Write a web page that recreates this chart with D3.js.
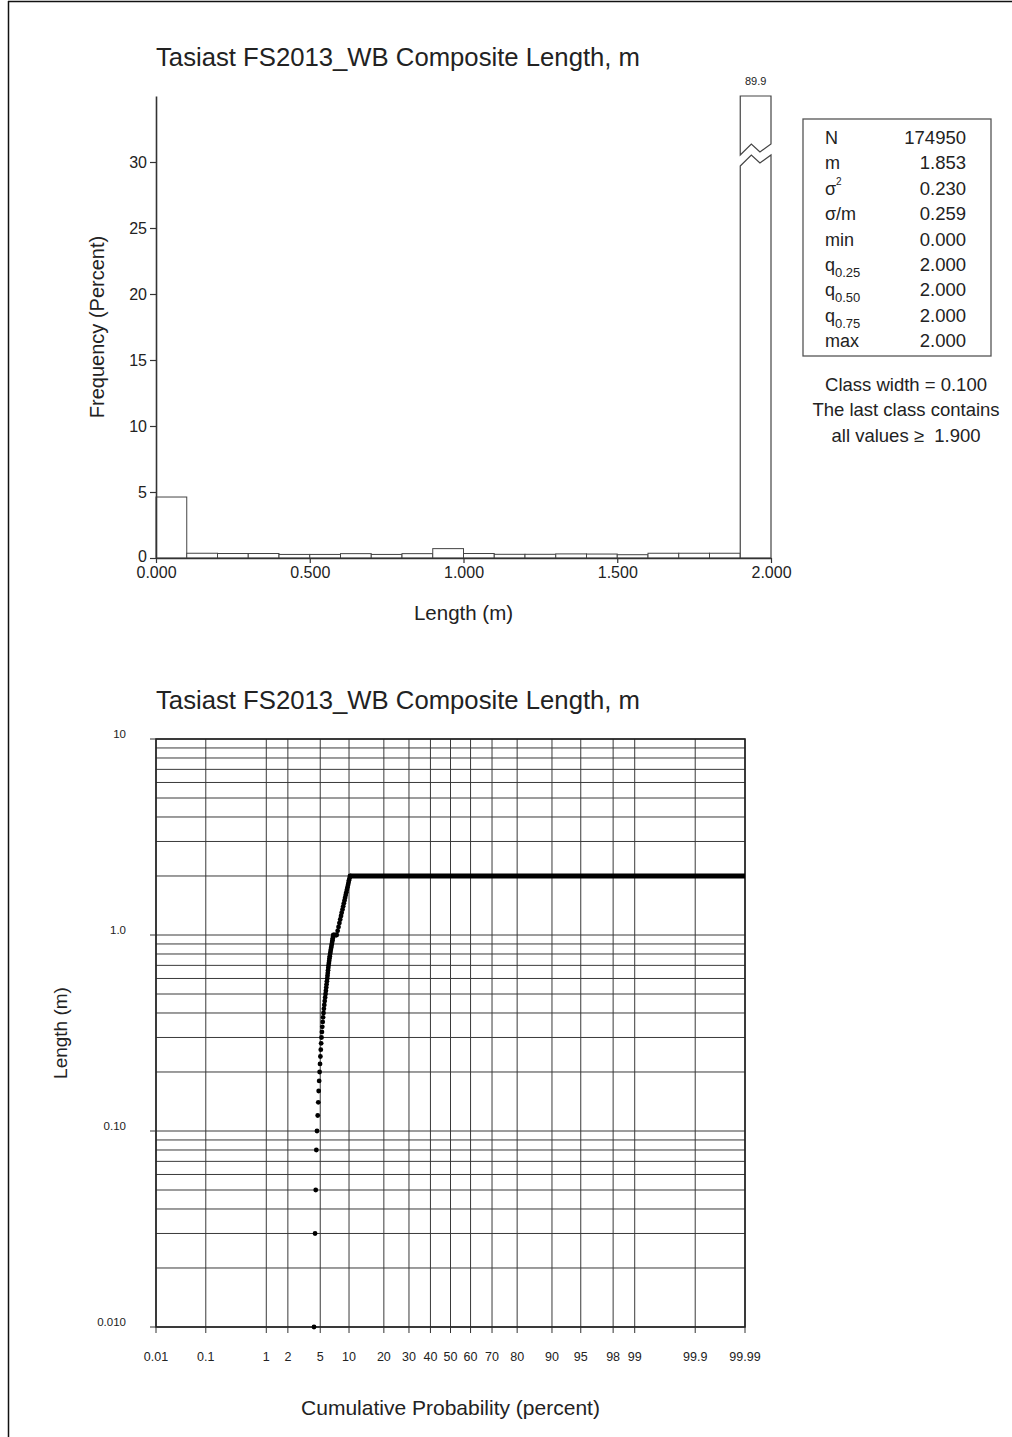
<!DOCTYPE html>
<html>
<head>
<meta charset="utf-8">
<script src="https://cdn.jsdelivr.net/npm/d3@7"></script>
<style>
  body { margin: 0; background: #fff; }
  svg { display: block; }
  text { font-family: "Liberation Sans", Arial, Helvetica, sans-serif; fill: #222; }
</style>
</head>
<body>
<svg id="chart" width="1012" height="1437"></svg>
<script>
// ---- Data --------------------------------------------------------------
const chartTitle = "Tasiast FS2013_WB Composite Length, m";

// Histogram: class start (m) and frequency (percent), class width 0.1
const classStarts = [0.0, 0.1, 0.2, 0.3, 0.4, 0.5, 0.6, 0.7, 0.8, 0.9,
                     1.0, 1.1, 1.2, 1.3, 1.4, 1.5, 1.6, 1.7, 1.8, 1.9];
const classFreq   = [4.62, 0.36, 0.34, 0.34, 0.27, 0.27, 0.33, 0.27, 0.33, 0.71,
                     0.34, 0.28, 0.28, 0.31, 0.30, 0.25, 0.36, 0.36, 0.36, 89.9];
const classWidth = 0.1;
const freqTicks = [0, 5, 10, 15, 20, 25, 30];
const lengthTicks = [0, 0.5, 1.0, 1.5, 2.0];

// Summary statistics
const statNames = [
  { base: "N" }, { base: "m" }, { base: "σ", sup: "2" }, { base: "σ/m" },
  { base: "min" }, { base: "q", sub: "0.25" }, { base: "q", sub: "0.50" },
  { base: "q", sub: "0.75" }, { base: "max" }
];
const statValues = ["174950", "1.853", "0.230", "0.259", "0.000",
                    "2.000", "2.000", "2.000", "2.000"];
const noteLines = ["Class width = 0.100", "The last class contains", "all values \u2265\u00a0 1.900"];

// Probability plot: length (m) vs cumulative probability (percent)
const probLengths = [0.01, 0.03, 0.05, 0.08, 0.10, 0.12, 0.14, 0.16, 0.18, 0.20,
                     0.22, 0.24, 0.26, 0.28, 0.30, 0.32, 0.34, 0.36, 0.38, 0.40,
                     0.42, 0.44, 0.46, 0.48, 0.50, 0.52, 0.54, 0.56, 0.58, 0.60,
                     0.62, 0.64, 0.66, 0.68, 0.70, 0.72, 0.74, 0.76, 0.78, 0.80,
                     0.82, 0.84, 0.86, 0.88, 0.90, 0.92, 0.94, 0.96, 0.98, 1.00,
                     1.00, 1.05, 1.10, 1.15, 1.20, 1.25, 1.30, 1.35, 1.40, 1.45,
                     1.50, 1.55, 1.60, 1.65, 1.70, 1.75, 1.80, 1.85, 1.90, 1.95, 2.00];
const probPercents = [4.24, 4.36, 4.44, 4.51, 4.59, 4.68, 4.75, 4.80, 4.86, 4.92,
                      4.97, 5.02, 5.07, 5.12, 5.17, 5.22, 5.27, 5.33, 5.38, 5.44,
                      5.49, 5.55, 5.61, 5.67, 5.73, 5.78, 5.83, 5.88, 5.93, 5.98,
                      6.02, 6.06, 6.10, 6.14, 6.18, 6.23, 6.28, 6.32, 6.37, 6.42,
                      6.48, 6.53, 6.59, 6.64, 6.70, 6.75, 6.80, 6.85, 6.90, 6.94,
                      7.54, 7.71, 7.87, 8.03, 8.18, 8.34, 8.47, 8.63, 8.77, 8.90,
                      9.04, 9.16, 9.29, 9.42, 9.54, 9.66, 9.78, 9.89, 9.99, 10.11, 10.22];
// Runs of identical values drawn as solid segments
const runLengths = [1.0, 2.0];
const runFrom    = [6.94, 10.22];
const runTo      = [7.54, 99.99];

const probTicks  = [0.01, 0.1, 1, 2, 5, 10, 20, 30, 40, 50, 60, 70, 80, 90, 95, 98, 99, 99.9, 99.99];
const probLabels = ["0.01", "0.1", "1", "2", "5", "10", "20", "30", "40", "50", "60", "70", "80",
                    "90", "95", "98", "99", "99.9", "99.99"];
const logTicks  = [0.01, 0.1, 1, 10];
const logLabels = ["0.010", "0.10", "1.0", "10"];

// ---- Helpers -----------------------------------------------------------
// Inverse of the standard normal CDF (Acklam's rational approximation)
function probit(p) {
  const a = [-3.969683028665376e+01, 2.209460984245205e+02, -2.759285104469687e+02,
             1.383577518672690e+02, -3.066479806614716e+01, 2.506628277459239e+00];
  const b = [-5.447609879822406e+01, 1.615858368580409e+02, -1.556989798598866e+02,
             6.680131188771972e+01, -1.328068155288572e+01];
  const c = [-7.784894002430293e-03, -3.223964580411365e-01, -2.400758277161838e+00,
             -2.549671180376400e+00, 4.374664141464968e+00, 2.938163982698783e+00];
  const d = [7.784695709041462e-03, 3.224671290700398e-01, 2.445134137142996e+00,
             3.754408661907416e+00];
  const plow = 0.02425, phigh = 1 - plow;
  let q, r;
  if (p < plow) {
    q = Math.sqrt(-2 * Math.log(p));
    return (((((c[0]*q+c[1])*q+c[2])*q+c[3])*q+c[4])*q+c[5]) /
           ((((d[0]*q+d[1])*q+d[2])*q+d[3])*q+1);
  } else if (p <= phigh) {
    q = p - 0.5; r = q * q;
    return (((((a[0]*r+a[1])*r+a[2])*r+a[3])*r+a[4])*r+a[5])*q /
           (((((b[0]*r+b[1])*r+b[2])*r+b[3])*r+b[4])*r+1);
  } else {
    q = Math.sqrt(-2 * Math.log(1 - p));
    return -(((((c[0]*q+c[1])*q+c[2])*q+c[3])*q+c[4])*q+c[5]) /
             ((((d[0]*q+d[1])*q+d[2])*q+d[3])*q+1);
  }
}

const svg = d3.select("#chart");
const ink = "#333";

// Page frame (left and top edges)
svg.append("line").attr("x1", 8.5).attr("x2", 8.5).attr("y1", 1).attr("y2", 1437)
  .attr("stroke", "#111").attr("stroke-width", 1.5);
svg.append("line").attr("x1", 8).attr("x2", 1012).attr("y1", 1.5).attr("y2", 1.5)
  .attr("stroke", "#111").attr("stroke-width", 1.5);

// ---- Histogram ---------------------------------------------------------
const hx = d3.scaleLinear().domain([0, 2]).range([156, 771]);
const hy = d3.scaleLinear().domain([0, 35]).range([558, 96]);

svg.append("text").attr("x", 156).attr("y", 66)
  .attr("font-size", 25.7).text(chartTitle);

const hist = svg.append("g");
classStarts.forEach((s, i) => {
  const v = classFreq[i];
  const x0 = hx(s), x1 = hx(s + classWidth);
  if (v <= hy.domain()[1]) {
    hist.append("rect")
      .attr("x", x0).attr("y", hy(v))
      .attr("width", x1 - x0).attr("height", hy(0) - hy(v))
      .attr("fill", "#fff").attr("stroke", "#444").attr("stroke-width", 1);
  } else {
    // Bar taller than the axis: draw it with a break
    const top = hy(hy.domain()[1]);
    const zb = 144;
    const w = x1 - x0;
    const zig = (dy) => [[x1, zb + dy], [x0 + w * 0.64, zb + 8 + dy], [x0 + w * 0.36, zb + dy], [x0, zb + 11 + dy]];
    const upper = [[x0, top], [x1, top]].concat(zig(0));
    const lowerZ = zig(11).reverse();
    const lower = lowerZ.concat([[x1, hy(0)], [x0, hy(0)]]);
    hist.append("path").attr("d", d3.line()(upper) + "Z")
      .attr("fill", "#fff").attr("stroke", "#444").attr("stroke-width", 1.2);
    hist.append("path").attr("d", d3.line()(lower) + "Z")
      .attr("fill", "#fff").attr("stroke", "#444").attr("stroke-width", 1.2);
    hist.append("text").attr("x", (x0 + x1) / 2).attr("y", top - 11)
      .attr("text-anchor", "middle").attr("font-size", 11).text(d3.format(".1f")(v));
  }
});

const hxAxis = svg.append("g").attr("transform", `translate(0,${hy(0)})`)
  .call(d3.axisBottom(hx).tickValues(lengthTicks).tickFormat(d3.format(".3f"))
    .tickSize(5).tickSizeOuter(0).tickPadding(4));
const hyAxis = svg.append("g").attr("transform", `translate(${hx(0)},0)`)
  .call(d3.axisLeft(hy).tickValues(freqTicks).tickSize(6).tickSizeOuter(0).tickPadding(3));
[hxAxis, hyAxis].forEach(a => {
  a.selectAll("path.domain").attr("stroke", ink).attr("stroke-width", 1.6);
  a.selectAll(".tick line").attr("stroke", ink).attr("stroke-width", 1.2);
  a.selectAll(".tick text").attr("font-size", 16).attr("fill", "#222")
    .attr("font-family", "Liberation Sans, Arial, sans-serif");
});
// Lift the zero label slightly so it clears the x-axis labels
hyAxis.selectAll(".tick text").filter(d => d === 0).attr("dy", "0.2em");

svg.append("text").attr("x", hx(1)).attr("y", 620).attr("text-anchor", "middle")
  .attr("font-size", 20.5).text("Length (m)");
svg.append("text").attr("transform", `translate(104,${hy(17.5)}) rotate(-90)`)
  .attr("text-anchor", "middle").attr("font-size", 20).text("Frequency (Percent)");

// Statistics box
const box = { x: 803, y: 119, w: 188, h: 237 };
svg.append("rect").attr("x", box.x).attr("y", box.y).attr("width", box.w).attr("height", box.h)
  .attr("fill", "#fff").attr("stroke", "#555").attr("stroke-width", 1.3);
const rowY = d3.scaleLinear().domain([0, 8]).range([144, 347]);
statNames.forEach((s, i) => {
  const y = rowY(i);
  const t = svg.append("text").attr("x", 825).attr("y", y).attr("font-size", 18);
  t.append("tspan").text(s.base);
  if (s.sup) t.append("tspan").attr("dy", -10).attr("font-size", 10).text(s.sup);
  if (s.sub) t.append("tspan").attr("dy", 6).attr("font-size", 13).text(s.sub);
  svg.append("text").attr("x", 966).attr("y", y).attr("text-anchor", "end")
    .attr("font-size", 18.5).text(statValues[i]);
});
noteLines.forEach((line, i) => {
  svg.append("text").attr("x", 906).attr("y", 390.5 + i * 25.5)
    .attr("text-anchor", "middle").attr("font-size", 18.5).text(line);
});

// ---- Probability plot --------------------------------------------------
const zLo = probit(probTicks[0] / 100), zHi = probit(probTicks[probTicks.length - 1] / 100);
const pz = d3.scaleLinear().domain([zLo, zHi]).range([156, 745]);
const px = p => pz(probit(p / 100));
const py = d3.scaleLog().domain([0.01, 10]).range([1327, 739]);

svg.append("text").attr("x", 156).attr("y", 709)
  .attr("font-size", 25.7).text(chartTitle);

const grid = svg.append("g");
py.ticks().forEach(v => {
  grid.append("line").attr("x1", 156).attr("x2", 745).attr("y1", py(v)).attr("y2", py(v))
    .attr("stroke", "#3a3a3a").attr("stroke-width", 1);
});
probTicks.forEach(p => {
  grid.append("line").attr("x1", px(p)).attr("x2", px(p)).attr("y1", 739).attr("y2", 1327)
    .attr("stroke", "#3a3a3a").attr("stroke-width", 1);
});
svg.append("rect").attr("x", 156).attr("y", 739).attr("width", 589).attr("height", 588)
  .attr("fill", "none").attr("stroke", "#222").attr("stroke-width", 1.6);

// Tick marks and labels
const pAxis = svg.append("g");
probTicks.forEach((p, i) => {
  pAxis.append("line").attr("x1", px(p)).attr("x2", px(p)).attr("y1", 1327).attr("y2", 1333)
    .attr("stroke", ink);
  pAxis.append("text").attr("x", px(p)).attr("y", 1361).attr("text-anchor", "middle")
    .attr("font-size", 12.5).text(probLabels[i]);
});
logTicks.forEach((v, i) => {
  pAxis.append("line").attr("x1", 150).attr("x2", 156).attr("y1", py(v)).attr("y2", py(v))
    .attr("stroke", ink);
  pAxis.append("text").attr("x", 126).attr("y", py(v) - 1).attr("text-anchor", "end")
    .attr("font-size", 11.5).text(logLabels[i]);
});

// Runs of equal values
runLengths.forEach((v, i) => {
  svg.append("line").attr("x1", px(runFrom[i])).attr("x2", px(runTo[i]))
    .attr("y1", py(v)).attr("y2", py(v))
    .attr("stroke", "#000").attr("stroke-width", 5);
});
// Individual data points
svg.append("g").selectAll("circle").data(probLengths).join("circle")
  .attr("cx", (d, i) => px(probPercents[i])).attr("cy", d => py(d))
  .attr("r", 2.4).attr("fill", "#000");

svg.append("text").attr("x", px(50)).attr("y", 1415).attr("text-anchor", "middle")
  .attr("font-size", 21).text("Cumulative Probability (percent)");
svg.append("text").attr("transform", `translate(67,${py(Math.sqrt(0.1))}) rotate(-90)`)
  .attr("text-anchor", "middle").attr("font-size", 19).text("Length (m)");
</script>
</body>
</html>
